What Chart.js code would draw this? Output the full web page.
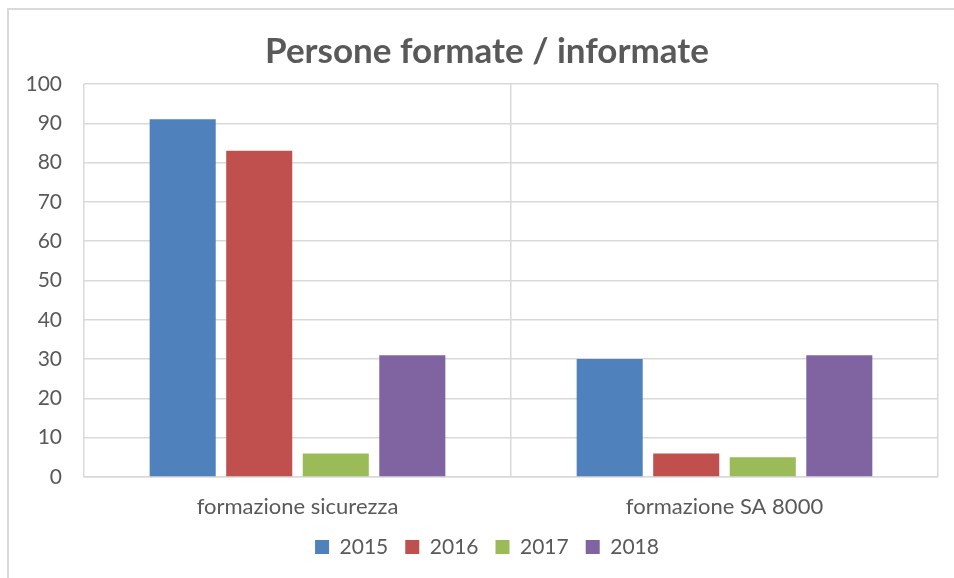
<!DOCTYPE html>
<html>
<head>
<meta charset="utf-8">
<script src="https://cdn.jsdelivr.net/npm/chart.js@4/dist/chart.umd.min.js"></script>
<style>
  html, body { margin: 0; padding: 0; background: #ffffff; }
  #wrap { position: relative; width: 954px; height: 578px; overflow: hidden; }
  canvas { display: block; }
</style>
</head>
<body>
<div id="wrap"><canvas id="c" width="966" height="578"></canvas></div>
<script>
const categories = ["formazione sicurezza", "formazione SA 8000"];
const seriesNames = ["2015", "2016", "2017", "2018"];
const values2015 = [91, 30];
const values2016 = [83, 6];
const values2017 = [6, 5];
const values2018 = [31, 31];
const seriesColors = ["#4F81BD", "#C0504D", "#9BBB59", "#8064A2"];
const titleText = "Persone formate / informate";

const FONT = "Lato, 'Open Sans', 'Liberation Sans', sans-serif";
const TXT = "#595959";
const GRID = "#d9d9d9";

const frame = {
  id: "frame",
  beforeDraw(chart) {
    const ctx = chart.ctx;
    ctx.save();
    ctx.strokeStyle = "#d9d9d9";
    ctx.lineWidth = 2;
    ctx.beginPath();
    ctx.moveTo(8, 578);
    ctx.lineTo(8, 9);
    ctx.lineTo(966, 9);
    ctx.stroke();
    ctx.restore();
  }
};

const allValues = [values2015, values2016, values2017, values2018];
new Chart(document.getElementById("c"), {
  type: "bar",
  data: {
    labels: categories,
    datasets: seriesNames.map((n, i) => ({
      label: n,
      data: allValues[i],
      backgroundColor: seriesColors[i],
      borderWidth: 0,
      categoryPercentage: 0.717,
      barPercentage: 0.863,
      yAxisID: "y"
    }))
  },
  options: {
    responsive: false,
    animation: false,
    devicePixelRatio: 1,
    layout: { padding: { left: 8, right: 0, top: 0, bottom: 10.5 } },
    plugins: {
      title: {
        display: true,
        text: titleText,
        color: TXT,
        font: { family: FONT, size: 35, weight: "bold" },
        padding: { top: 31, bottom: 11 }
      },
      legend: {
        position: "bottom",
        labels: {
          color: TXT,
          font: { family: FONT, size: 21 },
          boxWidth: 14,
          boxHeight: 14,
          padding: 17
        }
      },
      tooltip: { enabled: false }
    },
    scales: {
      x: {
        grid: { color: GRID, lineWidth: 1.5, drawTicks: false, offset: true },
        border: { color: GRID, width: 1.5 },
        ticks: { color: TXT, font: { family: FONT, size: 22 }, padding: 16.8 },
        afterFit(scale) { scale.height = 42.5; }
      },
      y: {
        min: 0,
        max: 100,
        grid: { color: GRID, lineWidth: 1.5, drawTicks: false },
        border: { display: false },
        ticks: { stepSize: 10, color: TXT, font: { family: FONT, size: 21 }, padding: 22 },
        afterFit(scale) { scale.width = 76; }
      },
      yRight: {
        position: "right",
        display: true,
        min: 0,
        max: 100,
        grid: { display: false, drawTicks: false },
        border: { display: false },
        ticks: { display: false },
        afterFit(scale) { scale.width = 28; }
      }
    }
  },
  plugins: [frame]
});
</script>
</body>
</html>
